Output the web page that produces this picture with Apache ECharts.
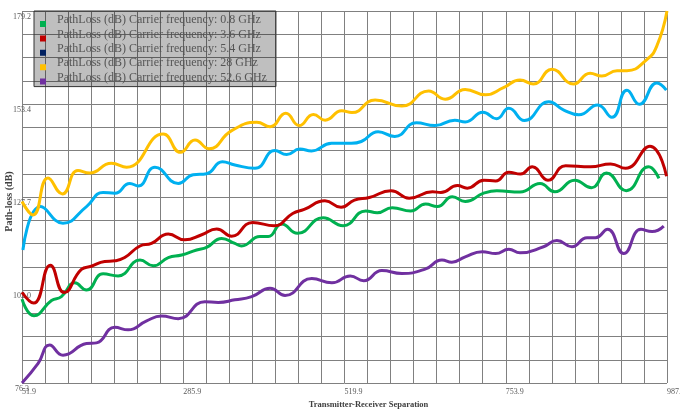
<!DOCTYPE html>
<html>
<head>
<meta charset="utf-8">
<script src="https://cdn.jsdelivr.net/npm/echarts@6/dist/echarts.min.js"></script>
<style>html,body{margin:0;padding:0;background:#fff;}#c{width:680px;height:410px;}</style>
</head>
<body>
<div id="c"></div>
<script>
// Tick labels and axis extents
const xTickLabels = ['51.9', '285.9', '519.9', '753.9', '987.9'];
const yTickLabels = ['76.3', '102.0', '127.7', '153.4', '179.2'];
const xMin = 51.9, xMax = 987.9;
const yMin = 76.3, yMax = 179.2;

const seriesNames = [
  'PathLoss (dB) Carrier frequency: 0.8 GHz',
  'PathLoss (dB) Carrier frequency: 3.6 GHz',
  'PathLoss (dB) Carrier frequency: 5.4 GHz',
  'PathLoss (dB) Carrier frequency: 28 GHz',
  'PathLoss (dB) Carrier frequency: 52.6 GHz'
];

// [separation, path loss]
const pl08 = [[51.9,99.5],[69.3,94.9],[94.7,99.1],[109.1,100.2],[128.5,104.0],[145.5,102.0],[169.6,106.5],[191.3,105.9],[223.1,110.3],[242.4,108.7],[264.2,111.0],[283.6,111.7],[305.3,113.1],[319.7,113.8],[341.7,116.3],[360.8,114.9],[370.5,114.2],[397.2,116.8],[409.3,116.8],[428.7,120.3],[451.7,117.7],[488.8,122.0],[517.9,119.8],[550.7,123.9],[567.4,123.4],[589.1,124.8],[615.9,123.9],[637.6,125.8],[654.6,125.1],[676.4,127.8],[695.1,126.5],[721.8,128.8],[740.9,129.5],[774.6,129.1],[803.7,131.5],[825.1,129.2],[853.9,132.4],[878.3,130.3],[900.0,134.4],[928.8,129.5],[961.2,136.1],[976.2,132.9]];
const pl36 = [[51.9,101.4],[68.9,98.4],[93.0,108.9],[113.1,101.3],[138.1,107.7],[152.5,108.6],[171.9,109.9],[186.6,110.1],[201.0,111.0],[223.1,114.2],[239.8,114.9],[264.2,117.5],[288.2,115.9],[312.7,117.3],[334.4,118.9],[356.1,116.9],[386.5,120.7],[418.0,119.8],[444.7,123.2],[461.4,124.3],[491.5,126.7],[514.9,124.9],[534.3,126.9],[556.0,127.6],[587.4,129.5],[613.8,127.4],[647.6,129.2],[659.7,129.0],[683.7,130.9],[698.1,130.2],[722.2,132.4],[739.2,132.2],[758.3,134.6],[775.3,134.1],[792.4,136.1],[815.1,132.4],[840.8,136.4],[877.0,136.1],[906.0,136.9],[927.7,135.7],[963.2,141.8],[987.2,133.5]];
const pl54 = [[53.2,113.1],[79.0,125.1],[111.4,120.5],[145.5,125.1],[169.6,129.0],[186.6,128.8],[208.4,131.5],[220.4,130.8],[244.8,136.0],[278.6,131.5],[300.3,133.9],[319.7,134.2],[342.7,137.5],[360.8,136.6],[389.9,135.7],[419.0,140.6],[436.0,139.5],[455.1,141.0],[472.1,140.5],[501.2,142.6],[529.9,142.6],[544.3,143.1],[568.7,145.8],[592.8,144.5],[624.2,148.3],[651.0,147.5],[680.0,149.0],[695.1,148.5],[720.8,151.2],[740.6,149.4],[758.3,152.3],[781.0,148.9],[816.4,154.1],[838.2,151.8],[859.9,150.5],[887.3,153.2],[908.0,149.8],[929.8,157.3],[947.8,153.4],[973.2,159.3],[986.9,157.3]];
const pl28 = [[51.9,126.5],[67.9,122.8],[89.7,133.0],[110.4,128.6],[133.1,135.1],[150.2,134.4],[181.6,137.1],[203.7,136.0],[256.8,145.2],[281.9,140.1],[303.0,143.5],[323.3,141.1],[356.1,146.1],[392.6,148.4],[411.9,147.2],[434.7,150.9],[454.1,147.5],[474.8,150.6],[491.8,149.0],[515.9,151.6],[530.6,151.1],[564.4,154.6],[603.2,152.9],[641.9,157.1],[666.0,154.8],[695.1,157.5],[724.5,156.0],[750.6,158.0],[774.6,160.1],[794.0,159.0],[820.8,163.1],[852.2,159.0],[876.3,162.0],[893.3,161.2],[915.4,162.7],[929.8,162.7],[958.2,165.7],[972.9,169.4],[987.9,179.2]];
const pl526 = [[51.9,76.3],[75.3,81.7],[92.0,86.8],[111.4,84.0],[145.5,87.2],[159.9,87.4],[186.6,91.7],[206.0,91.0],[232.8,93.5],[254.5,94.8],[278.6,94.1],[317.3,98.8],[336.7,98.6],[360.8,99.3],[385.2,100.2],[411.9,102.5],[433.7,100.5],[472.4,105.2],[501.5,104.0],[528.3,105.9],[547.7,104.6],[574.1,107.4],[603.2,106.6],[636.9,107.8],[661.3,110.3],[675.7,109.7],[695.1,111.2],[719.8,112.6],[739.2,112.1],[758.3,113.3],[774.6,112.3],[808.7,114.0],[828.1,115.7],[849.9,114.0],[871.9,116.5],[884.0,116.5],[901.7,118.8],[925.1,112.1],[950.1,118.8],[966.2,118.2],[983.2,119.7]];

const seriesData = [pl08, pl36, pl54, pl28, pl526];
const lineColors = ['#00B050', '#C00000', '#00B0F0', '#FFC000', '#7030A0'];
const legendColors = ['#00B050', '#C00000', '#002060', '#FFC000', '#7030A0'];

const FONT = '"Liberation Serif", "DejaVu Serif", serif';
const GRID_COLOR = '#808080';

const chart = echarts.init(document.getElementById('c'), null, {renderer: 'canvas'});
chart.setOption({
  animation: false,
  backgroundColor: '#ffffff',
  grid: {left: 22, right: 13, top: 11, bottom: 27, containLabel: false, outerBoundsMode: 'none'},
  legend: {
    orient: 'vertical',
    left: 34, top: 11,
    padding: [2, 9, 2, 6],
    itemGap: 0.4,
    itemWidth: 6, itemHeight: 14,
    icon: 'path://M0,0L0.001,0ZM0,8L6,8L6,14L0,14Z',
    backgroundColor: 'rgba(0,0,0,0.25)',
    borderColor: '#333333', borderWidth: 1,
    itemStyle: {borderWidth: 0},
    textStyle: {fontFamily: FONT, fontSize: 12, color: '#555555', lineHeight: 14, padding: [0, 0, 0, 6]},
    data: seriesNames
  },
  xAxis: [
    {type: 'value', min: xMin, max: xMax, show: false, gridIndex: 0},
    {
      type: 'value', min: 0, max: 28, interval: 1, position: 'bottom', gridIndex: 0,
      name: 'Transmitter-Receiver Separation', nameLocation: 'middle', nameGap: 17,
      nameMoveOverlap: false,
      nameTextStyle: {fontFamily: FONT, fontSize: 8.5, fontWeight: 'bold', color: '#404040', padding: [0, 0, 0, 48]},
      axisLine: {show: false}, axisTick: {show: false},
      splitLine: {show: true, lineStyle: {color: GRID_COLOR, width: 1}},
      axisLabel: {
        fontFamily: FONT, fontSize: 8, color: '#595959', align: 'left', margin: 5,
        formatter: v => (v % 7 === 0 ? xTickLabels[v / 7] : '')
      }
    }
  ],
  yAxis: [
    {type: 'value', min: yMin, max: yMax, show: false, gridIndex: 0},
    {
      type: 'value', min: 0, max: 16, interval: 1, position: 'left', gridIndex: 0,
      name: 'Path-loss (dB)', nameLocation: 'middle', nameGap: 8,
      nameMoveOverlap: false,
      nameTextStyle: {fontFamily: FONT, fontSize: 10, fontWeight: 'bold', color: '#404040', padding: [0, 9, 0, 0]},
      axisLine: {show: false}, axisTick: {show: false},
      splitLine: {show: true, lineStyle: {color: GRID_COLOR, width: 1}},
      axisLabel: {
        fontFamily: FONT, fontSize: 8, color: '#595959', align: 'center', verticalAlign: 'top', margin: 0,
        padding: [2, 0, 0, 0],
        formatter: v => (v % 4 === 0 ? yTickLabels[v / 4] : '')
      }
    }
  ],
  series: seriesNames.map((name, i) => ({
    name: name,
    type: 'line',
    xAxisIndex: 0, yAxisIndex: 0,
    data: seriesData[i],
    smooth: 0.5,
    showSymbol: false,
    symbol: 'none',
    itemStyle: {color: legendColors[i]},
    lineStyle: {color: lineColors[i], width: 3},
    z: 3
  }))
});
</script>
</body>
</html>
